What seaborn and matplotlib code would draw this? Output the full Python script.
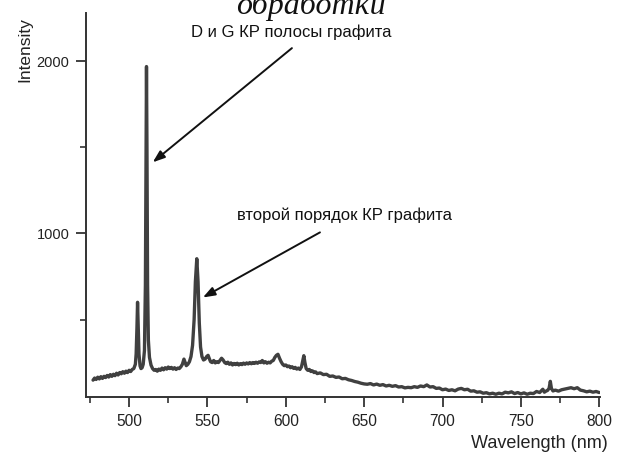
import numpy as np
import pandas as pd
import matplotlib
matplotlib.use("Agg")
import matplotlib.pyplot as plt
import seaborn as sns

# ---- data ----
wavelength = [
    477, 478, 479, 480, 481, 482, 483, 484, 485, 486, 487, 488, 489, 490, 491, 492, 493, 494, 495, 496,
    497, 498, 499, 500, 501, 502, 503, 504, 504.5, 505, 505.4, 505.8, 506.3, 507, 507.6, 508.3, 509,
    509.8, 510.4, 510.8, 511.1, 511.4, 511.8, 512.3, 513, 514, 515, 516, 517, 518, 519, 520, 521, 522,
    523, 524, 525, 526, 527, 528, 529, 530, 531, 532, 533, 534, 535, 535.8, 536.5, 537.5, 538.5, 539.5,
    540.5, 541.5, 542.3, 543.2, 544, 544.8, 545.6, 546.5, 547.5, 548.5, 549.5, 550.4, 551.3, 552, 553,
    554, 555, 556, 557, 558, 559, 560, 561, 562, 563, 564, 565, 566, 567, 568, 569, 570, 571, 572, 573,
    574, 575, 576, 577, 578, 579, 580, 581, 582, 583, 584, 585, 586, 587, 588, 589, 590, 591, 592, 593,
    594, 595, 596, 597, 598, 599, 600, 601, 602, 603, 604, 605, 606, 607, 608, 609, 610, 610.8, 611.5,
    612.2, 613, 614, 615, 616, 617, 618, 619, 620, 622, 624, 626, 628, 630, 632, 634, 636, 638, 640, 642,
    644, 646, 648, 650, 652, 654, 656, 658, 660, 662, 664, 666, 668, 670, 672, 674, 676, 678, 680, 682,
    684, 686, 688, 690, 692, 694, 696, 698, 700, 702, 704, 706, 708, 710, 712, 714, 716, 718, 720, 722,
    724, 726, 728, 730, 732, 734, 736, 738, 740, 742, 744, 746, 748, 750, 752, 754, 756, 758, 760, 762,
    764, 765, 766, 767, 768, 768.8, 769.5, 770.5, 772, 774, 776, 778, 780, 782, 784, 786, 788, 790, 792,
    794, 796, 798, 800,
]
intensity = [
    148, 160, 152, 165, 155, 168, 158, 170, 163, 175, 166, 180, 170, 182, 174, 188, 178, 192, 185, 197,
    188, 200, 192, 205, 198, 210, 215, 240, 300, 450, 600, 470, 300, 230, 215, 220, 240,
    320, 700, 1500, 1969, 1500, 700, 380, 280, 235, 215, 205, 210, 200, 212, 205, 218, 208,
    220, 212, 224, 215, 222, 212, 220, 210, 218, 215, 225, 240, 270, 250, 232, 240, 255, 285,
    350, 500, 720, 853, 720, 480, 340, 285, 265, 270, 285, 292, 270, 255, 250,
    262, 248, 255, 250, 262, 275, 265, 250, 244, 252, 240, 248, 236, 245, 238, 246, 236, 244, 238, 247,
    240, 248, 242, 250, 243, 250, 245, 252, 246, 254, 250, 262, 248, 255, 246, 252, 248, 258, 262, 280,
    292, 298, 275, 255, 240, 232, 236, 226, 230, 220, 226, 216, 222, 212, 218, 210, 225, 260, 290,
    250, 215, 205, 210, 198, 202, 192, 196, 186, 190, 180, 182, 170, 172, 164, 166, 156, 158, 150, 146,
    140, 136, 130, 126, 124, 128, 120, 125, 118, 122, 114, 118, 112, 116, 108, 110, 103, 106, 104, 110,
    106, 114, 110, 120, 108, 110, 100, 102, 92, 96, 88, 92, 86, 96, 100, 92, 95, 84, 86, 78,
    80, 72, 75, 68, 72, 66, 72, 68, 78, 74, 80, 70, 76, 68, 74, 66, 72, 70, 82, 76,
    95, 78, 84, 88, 100, 141, 100, 85, 90, 84, 92, 96, 100, 104, 98, 104, 90, 86, 80,
    84, 78, 82, 76,
]
x_ticks = [500, 550, 600, 650, 700, 750, 800]
y_ticks = [1000, 2000]
x_label = "Wavelength (nm)"
y_label = "Intensity"
note_dg = "D и G КР полосы графита"
note_second = "второй порядок КР графита"
caption_tail = "обработки"

df = pd.DataFrame({"wl": wavelength, "I": intensity})

sns.set_theme(style="ticks")
plt.rcParams["font.family"] = ["Liberation Sans", "DejaVu Sans"]

fig = plt.figure(figsize=(6.23, 4.55), dpi=100)
ax = fig.add_axes([86 / 623, 1 - 397 / 455, (600 - 86) / 623, (397 - 13) / 455])

line_col = "#404040"
axis_col = "#333333"
sns.lineplot(data=df, x="wl", y="I", ax=ax, color=line_col, linewidth=2.4,
             estimator=None, sort=False)

ax.set_xlim(472.5, 800.5)
ax.set_ylim(50, 2280)
ax.set_xticks(x_ticks)
ax.set_xticks([475, 525, 575, 625, 675, 725, 775], minor=True)
ax.set_yticks(y_ticks)
ax.set_yticks([500, 1500], minor=True)

for s in ["top", "right"]:
    ax.spines[s].set_visible(False)
for s in ["left", "bottom"]:
    ax.spines[s].set_color(axis_col)
    ax.spines[s].set_linewidth(1.4)

ax.tick_params(axis="both", which="major", length=7, width=1.3, color=axis_col,
               direction="out", pad=5, labelcolor="#222222")
ax.tick_params(axis="both", which="minor", length=4, width=1.2, color=axis_col, direction="out")
ax.tick_params(axis="x", labelsize=11.2)
ax.tick_params(axis="y", labelsize=10.5)

ax.set_xlabel("")
ax.set_ylabel("")
fig.text(608 / 623, 1 - 443 / 455, x_label, ha="right", va="center", fontsize=13, color="#222222")
fig.text(25 / 623, 1 - 50 / 455, y_label, ha="center", va="center", rotation=90,
         fontsize=12.5, color="#222222")

arrow_kw = dict(arrowstyle="-|>,head_length=0.6,head_width=0.22", color="#111111", lw=1.4,
                shrinkA=0, shrinkB=0)
ax.annotate("", xy=(515.1, 1413), xytext=(603.9, 2076), arrowprops=arrow_kw)
ax.annotate("", xy=(547.1, 628), xytext=(621.8, 1006), arrowprops=arrow_kw)
ax.text(603.2, 2169, note_dg, ha="center", va="center", fontsize=12, color="#111111")
ax.text(637.7, 1105, note_second, ha="center", va="center", fontsize=12, color="#111111")

fig.text(311 / 623, 1 - 14 / 455, caption_tail, ha="center", va="baseline", fontsize=23,
         style="italic", family=["Liberation Serif", "DejaVu Serif"], color="#111111")

fig.savefig("out.png", dpi=100, facecolor="white")
